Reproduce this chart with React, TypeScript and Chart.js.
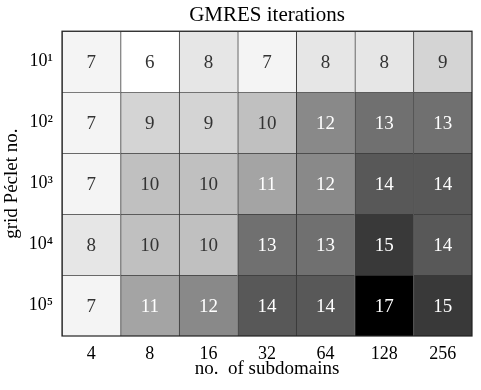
import React, { useEffect, useRef } from "react";
import { Chart, registerables } from "chart.js";

Chart.register(...registerables);

const colLabels = ["4", "8", "16", "32", "64", "128", "256"];
const rowLabels = ["10¹", "10²", "10³", "10⁴", "10⁵"];
const row1 = [7, 6, 8, 7, 8, 8, 9];
const row2 = [7, 9, 9, 10, 12, 13, 13];
const row3 = [7, 10, 10, 11, 12, 14, 14];
const row4 = [8, 10, 10, 13, 13, 15, 14];
const row5 = [7, 11, 12, 14, 14, 17, 15];
const rows = [row1, row2, row3, row4, row5];
const vmin = 6;
const vmax = 17;
// matplotlib "Greys" colormap stops
const greyStops = [255, 240, 217, 189, 150, 115, 82, 37, 0];

const FONT = "'Liberation Serif', 'DejaVu Serif', serif";

function greyOf(v: number) {
  const t = Math.min(1, Math.max(0, (v - vmin) / (vmax - vmin)));
  const p = t * (greyStops.length - 1);
  const i = Math.min(greyStops.length - 2, Math.floor(p));
  const f = p - i;
  const g = Math.round(greyStops[i] + (greyStops[i + 1] - greyStops[i]) * f);
  return g;
}

const cellText = {
  id: "cellText",
  afterDatasetsDraw(chart: any) {
    const ctx = chart.ctx;
    ctx.save();
    ctx.font = `19px ${FONT}`;
    ctx.textAlign = "center";
    ctx.textBaseline = "middle";
    chart.data.datasets.forEach((ds: any, di: number) => {
      const meta = chart.getDatasetMeta(di);
      meta.data.forEach((el: any, ci: number) => {
        const v = rows[di][ci];
        ctx.fillStyle = greyOf(v) < 170 ? "#ffffff" : "#333333";
        ctx.fillText(String(v), el.x, (el.y + el.base) / 2 + 1);
      });
    });
    const a = chart.chartArea;
    ctx.strokeStyle = "#222222";
    ctx.lineWidth = 1.2;
    ctx.strokeRect(a.left, a.top, a.right - a.left, a.bottom - a.top);
    ctx.restore();
  },
};

export default function App() {
  const ref = useRef<HTMLCanvasElement>(null);
  useEffect(() => {
    const datasets = rows.map((r, ri) => ({
      label: rowLabels[ri],
      data: r.map(() => [ri, ri + 1]),
      backgroundColor: r.map((v) => {
        const g = greyOf(v);
        return `rgb(${g},${g},${g})`;
      }),
      borderColor: "#3a3a3a",
      borderWidth: { left: 1, top: 1, right: 0, bottom: 0 },
      borderSkipped: false,
      barPercentage: 1,
      categoryPercentage: 1,
      grouped: false,
    }));
    const chart = new Chart(ref.current!, {
      type: "bar",
      data: { labels: colLabels, datasets: datasets as any },
      plugins: [cellText],
      options: {
        animation: false,
        responsive: false,
        devicePixelRatio: 1,
        layout: { padding: { left: 0, right: 9, top: 0, bottom: 0 } },
        plugins: {
          legend: { display: false },
          tooltip: { enabled: false },
          title: {
            display: true,
            text: "GMRES iterations",
            color: "#000",
            fullSize: false,
            font: { family: FONT, size: 21, weight: "normal" },
            padding: { top: 3, bottom: 3 },
          },
        },
        scales: {
          x: {
            type: "category",
            grid: { display: false, drawTicks: false },
            border: { display: false },
            ticks: { color: "#000", padding: 7, font: { family: FONT, size: 18 } },
            title: {
              display: true,
              text: "no.  of subdomains",
              color: "#000",
              font: { family: FONT, size: 19 },
              padding: { top: 0, bottom: 10 },
            },
            afterFit: (s: any) => {
              s.height = 54;
            },
          },
          y: {
            type: "linear",
            min: 0,
            max: 5,
            reverse: true,
            grid: { display: false, drawTicks: false },
            border: { display: false },
            afterBuildTicks: (s: any) => {
              s.ticks = rowLabels.map((_, i) => ({ value: i + 0.5 }));
            },
            ticks: {
              color: "#000",
              padding: 9,
              font: { family: FONT, size: 18 },
              callback: (v: any) => rowLabels[Math.floor(Number(v))],
            },
            title: {
              display: true,
              text: "grid Péclet no.",
              color: "#000",
              font: { family: FONT, size: 19 },
              padding: { top: 1, bottom: 0 },
            },
            afterFit: (s: any) => {
              s.width = 62;
            },
          },
        },
      } as any,
    });
    return () => chart.destroy();
  }, []);
  return (
    <div style={{ position: "absolute", left: 0, top: 0, width: 481, height: 390, background: "#fff" }}>
      <canvas ref={ref} width={481} height={390} />
    </div>
  );
}
